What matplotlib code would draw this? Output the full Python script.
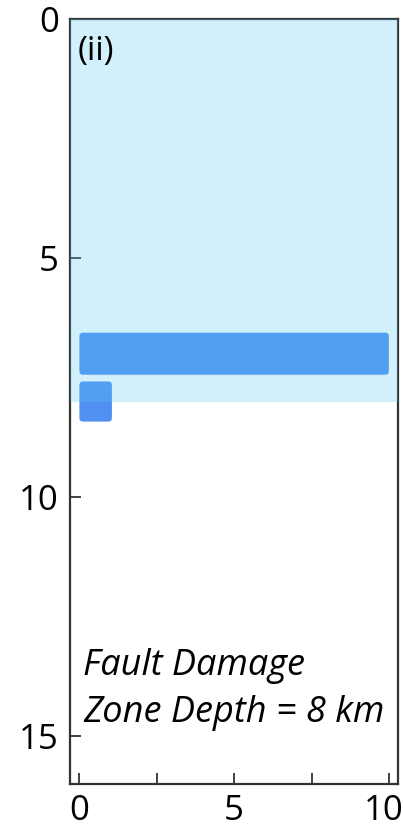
import matplotlib
matplotlib.use("Agg")
import matplotlib.pyplot as plt
import matplotlib.transforms as mtransforms
from matplotlib.patches import Rectangle, FancyBboxPatch

plt.rcParams['font.family'] = ['Open Sans', 'DejaVu Sans']

# model geometry (km)
zone_depth = 8.0          # fault damage zone
slab_x = [0.0, 10.0]
slab_depth = [6.56, 7.44]
block_x = [0.0, 1.05]
block_depth = [7.58, 8.42]

x_major = [0, 5, 10]
x_minor = [2.5, 7.5]
y_major = [0, 5, 10, 15]

panel_label = "(ii)"
note_lines = ["Fault Damage", "Zone Depth = 8 km"]

fig = plt.figure(figsize=(4.03, 8.27), dpi=100)
ax = fig.add_axes([0.174, 0.052, 0.814, 0.925])
ax.set_xlim(-0.3, 10.3)
ax.set_ylim(16, 0)

block_color = "#4f90f0"
# rounding in x units; scaled so corners look round on screen
aspect = 0.645
for (x0, x1), (d0, d1) in [(slab_x, slab_depth), (block_x, block_depth)]:
    ax.add_patch(FancyBboxPatch((x0, d0), x1 - x0, d1 - d0,
                                boxstyle="round,pad=0,rounding_size=0.12",
                                mutation_aspect=aspect,
                                facecolor=block_color, edgecolor="none", zorder=2))

# damage zone shading on top
ax.add_patch(Rectangle((-0.3, 0), 10.6, zone_depth, facecolor=(90/255, 202/255, 243/255),
                       alpha=0.27, edgecolor="none", zorder=3))

ax.text(-0.05, 0.33, panel_label, fontsize=24, ha="left", va="top", zorder=4)
ax.text(0.12, 13.72, note_lines[0], fontsize=26, style="italic", ha="left", va="baseline", zorder=4)
ax.text(0.12, 14.70, note_lines[1], fontsize=26, style="italic", ha="left", va="baseline", zorder=4)

ax.set_xticks(x_major)
ax.set_xticks(x_minor, minor=True)
ax.set_yticks(y_major)
ax.tick_params(which="both", direction="in", length=8, width=1.3, color="#333333",
               labelsize=25, pad=7)
ax.tick_params(axis="y", pad=8)
for s in ax.spines.values():
    s.set_linewidth(1.6)
    s.set_color("#333333")

# nudge the last x label so it stays inside the figure
last = ax.get_xticklabels()[-1]
last.set_transform(last.get_transform() + mtransforms.ScaledTranslation(-5 / 100, 0, fig.dpi_scale_trans))

fig.savefig("out.png", dpi=100)
